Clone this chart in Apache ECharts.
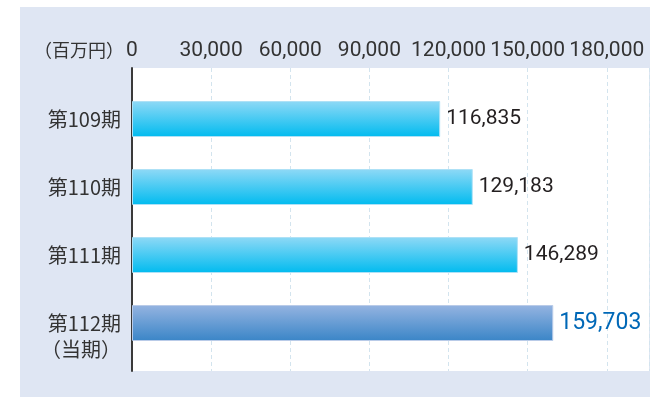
<!DOCTYPE html>
<html>
<head>
<meta charset="utf-8">
<script src="https://cdn.jsdelivr.net/npm/echarts@6/dist/echarts.min.js"></script>
<style>
html,body{margin:0;padding:0;background:#fff;}
#c{width:650px;height:397px;}
</style>
</head>
<body>
<div id="c"></div>
<script>
var categories = ['第109期', '第110期', '第111期', '第112期\n（当期）'];
var values = [116835, 129183, 146289, 159703];
var unitLabel = '（百万円）';
var axisMax = 196000;
var axisInterval = 30000;

function fmt(v) { return Number(v).toLocaleString('en-US'); }

var cyan = new echarts.graphic.LinearGradient(0, 0, 0, 1, [
  {offset: 0, color: '#8fd9f6'}, {offset: 1, color: '#00bbef'}]);
var blue = new echarts.graphic.LinearGradient(0, 0, 0, 1, [
  {offset: 0, color: '#95b4e1'}, {offset: 1, color: '#3a85c7'}]);

var barData = values.map(function (v, i) {
  var last = i === values.length - 1;
  return {
    value: v,
    itemStyle: {color: last ? blue : cyan, borderColor: last ? '#b9cbe8' : '#aee1f6', borderWidth: 1},
    label: last ? {color: '#0068b7', fontSize: 23} : {}
  };
});

var chart = echarts.init(document.getElementById('c'), null, {renderer: 'canvas'});
chart.setOption({
  animation: false,
  backgroundColor: '#ffffff',
  graphic: [
    {type: 'rect', z: -10, shape: {x: 20, y: 7, width: 630, height: 390}, style: {fill: '#dfe6f3'}},
    {type: 'text', x: 124, y: 50, style: {text: unitLabel, fontSize: 18, fill: '#333', align: 'right', verticalAlign: 'middle', fontFamily: 'Noto Sans CJK JP'}}
  ],
  grid: [
    {left: 132, right: 1, top: 85, bottom: 40, show: false},
    {left: 132, right: 1, top: 68, bottom: 26, show: true, backgroundColor: '#ffffff', borderWidth: 0, z: 0}
  ],
  xAxis: [
    {gridIndex: 0, type: 'value', min: 0, max: axisMax, show: false},
    {gridIndex: 1, type: 'value', position: 'top', min: 0, max: axisMax, interval: axisInterval,
     axisLine: {show: false}, axisTick: {show: false},
     axisLabel: {showMaxLabel: false, formatter: fmt, fontSize: 21, color: '#333', margin: 7, fontFamily: 'Roboto'},
     splitLine: {show: true, lineStyle: {color: '#d3e4ee', type: [4, 3], width: 1}}}
  ],
  yAxis: [
    {gridIndex: 0, type: 'category', inverse: true, data: categories,
     axisLine: {show: false}, axisTick: {show: false},
     axisLabel: {fontSize: 20, color: '#333', margin: 11, lineHeight: 26, fontFamily: 'Noto Sans CJK JP', align: 'right',
       formatter: function (v) { return v.indexOf('\n') >= 0 ? '\n' + v : v; }}},
    {gridIndex: 1, type: 'value', position: 'left',
     axisLine: {show: true, onZero: false, lineStyle: {color: '#3a3a3a', width: 2}},
     axisTick: {show: false}, axisLabel: {show: false}, splitLine: {show: false}}
  ],
  series: [{
    type: 'bar', xAxisIndex: 0, yAxisIndex: 0, barWidth: 36, z: 3,
    data: barData,
    label: {show: true, position: 'right', distance: 6, formatter: function (p) { return fmt(p.value); },
            fontSize: 21, color: '#231f20', fontFamily: 'Roboto'}
  }]
});
</script>
</body>
</html>
